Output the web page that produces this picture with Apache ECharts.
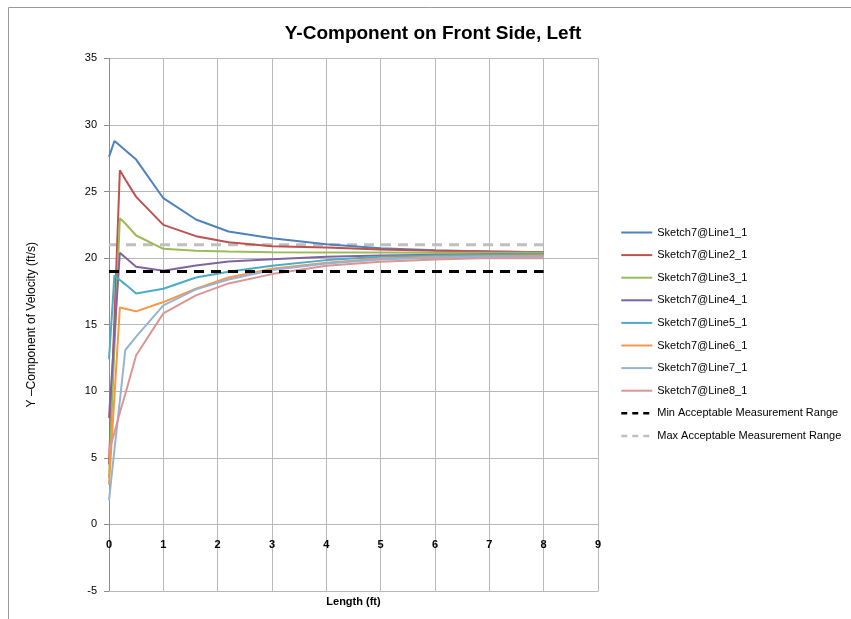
<!DOCTYPE html>
<html>
<head>
<meta charset="utf-8">
<script src="https://cdn.jsdelivr.net/npm/echarts@6/dist/echarts.min.js"></script>
<style>
  html, body { margin: 0; padding: 0; background: #fff; }
  #chart { width: 851px; height: 619px; }
</style>
</head>
<body>
<div id="chart"></div>
<script>
// x positions (ft) shared by all sketch lines
const xValues = [0, 0.1, 0.2, 0.3, 0.5, 1, 1.6, 2.2, 3, 4, 5, 6, 7, 8];

const line1 = [27.6, 28.8, 28.45, 28.1, 27.4, 24.5, 22.9, 22.0, 21.5, 21.05, 20.75, 20.6, 20.5, 20.45];
const line2 = [4.5, 15.5, 26.6, 25.9, 24.6, 22.5, 21.65, 21.2, 20.9, 20.8, 20.65, 20.55, 20.5, 20.45];
const line3 = [3.5, 13.2, 23.0, 22.6, 21.7, 20.7, 20.55, 20.5, 20.45, 20.43, 20.42, 20.4, 20.4, 20.4];
const line4 = [8.0, 14.2, 20.4, 20.05, 19.35, 19.05, 19.45, 19.75, 19.92, 20.1, 20.2, 20.25, 20.3, 20.3];
const line5 = [12.4, 18.7, 18.36, 18.03, 17.35, 17.7, 18.55, 18.97, 19.42, 19.85, 20.1, 20.2, 20.25, 20.3];
const line6 = [3.0, 9.6, 16.3, 16.2, 16.0, 16.7, 17.7, 18.55, 19.2, 19.65, 19.98, 20.1, 20.15, 20.2];
const line7 = [1.8, 5.6, 9.3, 13.1, 14.1, 16.45, 17.65, 18.4, 19.1, 19.6, 19.9, 20.05, 20.1, 20.1];
const line8 = [5.5, 6.9, 8.4, 9.8, 12.7, 15.85, 17.2, 18.1, 18.8, 19.43, 19.73, 19.9, 20.0, 20.0];

const rangeX = [0, 8];
const minRange = [19, 19];
const maxRange = [21, 21];

const lineNames = ['Sketch7@Line1_1', 'Sketch7@Line2_1', 'Sketch7@Line3_1', 'Sketch7@Line4_1',
                   'Sketch7@Line5_1', 'Sketch7@Line6_1', 'Sketch7@Line7_1', 'Sketch7@Line8_1'];
const lineColors = ['#4F81BD', '#C0504D', '#9BBB59', '#8064A2', '#4BACC6', '#F79646', '#95B3D7', '#D99694'];
const lineValues = [line1, line2, line3, line4, line5, line6, line7, line8];

const font = 'Liberation Sans';

const chart = echarts.init(document.getElementById('chart'));

const series = lineValues.map((ys, i) => ({
  name: lineNames[i],
  type: 'line',
  data: xValues.map((x, j) => [x, ys[j]]),
  symbol: 'none',
  lineStyle: { color: lineColors[i], width: 2 },
  itemStyle: { color: lineColors[i] },
  z: 3
}));

series.push({
  name: 'Min Acceptable Measurement Range',
  type: 'line',
  data: rangeX.map((x, j) => [x, minRange[j]]),
  symbol: 'none',
  lineStyle: { color: '#000000', width: 3, type: [10, 7] },
  itemStyle: { color: '#000000' },
  z: 4
});
series.push({
  name: 'Max Acceptable Measurement Range',
  type: 'line',
  data: rangeX.map((x, j) => [x, maxRange[j]]),
  symbol: 'none',
  lineStyle: { color: '#BFBFBF', width: 3, type: [10, 7] },
  itemStyle: { color: '#BFBFBF' },
  z: 2
});

const legendData = series.map((s, i) => {
  const item = { name: s.name };
  if (i >= 8) item.lineStyle = { type: [6, 5], width: 2.5 };
  return item;
});

const option = {
  animation: false,
  textStyle: { fontFamily: font },
  title: {
    text: 'Y-Component on Front Side, Left',
    left: 428,
    textAlign: 'center',
    top: 19,
    textStyle: { fontFamily: font, fontSize: 19, fontWeight: 'bold', color: '#000' }
  },
  graphic: [{
    type: 'rect',
    shape: { x: 8.5, y: 7.5, width: 900, height: 700 },
    style: { fill: 'none', stroke: '#9a9a9a', lineWidth: 1 },
    silent: true
  }],
  legend: {
    orient: 'vertical',
    left: 615,
    top: 222,
    itemWidth: 31,
    itemHeight: 12,
    itemGap: 11.6,
    itemStyle: { opacity: 0 },
    textStyle: { fontFamily: font, fontSize: 11, color: '#000' },
    data: legendData
  },
  grid: { left: 109, right: 253, top: 58.4, bottom: 28, containLabel: false, outerBoundsMode: 'none' },
  xAxis: {
    type: 'value',
    min: 0,
    max: 9,
    interval: 1,
    name: 'Length (ft)',
    nameLocation: 'middle',
    nameGap: 4,
    nameTextStyle: { fontFamily: font, fontSize: 11, fontWeight: 'bold', color: '#000' },
    axisLine: { show: true, onZero: false, lineStyle: { color: '#b8b8b8' } },
    axisTick: { show: false },
    axisLabel: { fontFamily: font, fontSize: 11, fontWeight: 'bold', color: '#000', margin: -52 },
    splitLine: { show: true, lineStyle: { color: '#b8b8b8', width: 1 } }
  },
  yAxis: {
    type: 'value',
    min: -5,
    max: 35,
    interval: 5,
    name: 'Y –Component of Velocity (ft/s)',
    nameLocation: 'middle',
    nameGap: 71,
    nameTextStyle: { fontFamily: font, fontSize: 12, color: '#000' },
    axisLine: { show: true, lineStyle: { color: '#8c8c8c' } },
    axisTick: { show: true, length: 5, lineStyle: { color: '#8c8c8c' } },
    axisLabel: { fontFamily: font, fontSize: 11, color: '#000', margin: 12 },
    splitLine: { show: true, lineStyle: { color: '#b8b8b8', width: 1 } }
  },
  series: series
};

chart.setOption(option);
</script>
</body>
</html>
